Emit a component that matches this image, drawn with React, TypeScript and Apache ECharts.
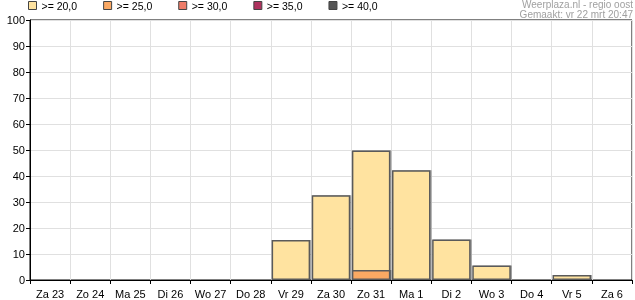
import React, { useEffect, useRef } from "react";
import * as echarts from "echarts";

const categories = ["Za 23", "Zo 24", "Ma 25", "Di 26", "Wo 27", "Do 28", "Vr 29", "Za 30", "Zo 31", "Ma 1", "Di 2", "Wo 3", "Do 4", "Vr 5", "Za 6"];
const ge20 = [0, 0, 0, 0, 0, 0, 15.4, 32.6, 49.8, 42.2, 15.6, 5.6, 0, 1.9, 0];
const ge25 = [0, 0, 0, 0, 0, 0, 0, 0, 3.8, 0, 0, 0, 0, 0, 0];
const ge30: number[] = [];
const ge35: number[] = [];
const ge40: number[] = [];
const seriesNames = [">= 20,0", ">= 25,0", ">= 30,0", ">= 35,0", ">= 40,0"];
const seriesColors = ["#FFE3A0", "#FBA964", "#EE7C68", "#AE325E", "#555555"];
const yTicks = { min: 0, max: 100, interval: 10 };
const titleLines = ["Weerplaza.nl - regio oost", "Gemaakt: vr 22 mrt 20:47"];

const FONT = "'Liberation Sans', Arial, sans-serif";

export default function App() {
  const ref = useRef<HTMLDivElement>(null);
  useEffect(() => {
    if (!ref.current) return;
    const chart = echarts.init(ref.current, null, { renderer: "svg" });
    const datas = [ge20, ge25, ge30, ge35, ge40];
    chart.setOption({
      animation: false,
      textStyle: { fontFamily: FONT },
      grid: {
        left: 30, right: 3, top: 20, bottom: 20,
        show: true, borderColor: "#000", borderWidth: 1,
      },
      legend: {
        left: 28, top: 0, padding: 0,
        itemWidth: 8, itemHeight: 8, itemGap: 26,
        icon: "rect",
        data: seriesNames.map((n, i) => ({
          name: n,
          itemStyle: { color: seriesColors[i], borderColor: "#444", borderWidth: 1 },
        })),
        textStyle: { fontSize: 10.5, color: "#000", fontFamily: FONT },
      },
      graphic: titleLines.map((t, i) => ({
        type: "text",
        right: 2,
        top: -1 + i * 10,
        style: { text: t, fill: "#a0a0a0", fontSize: 10, fontFamily: FONT },
      })),
      xAxis: {
        type: "category",
        data: categories,
        boundaryGap: true,
        axisLine: { lineStyle: { color: "#000", width: 1 } },
        axisTick: { show: true, length: 4, lineStyle: { color: "#000" } },
        axisLabel: { color: "#000", fontSize: 11, margin: 8, interval: 0 },
        splitLine: { show: true, lineStyle: { color: "#e0e0e0", width: 1 } },
      },
      yAxis: {
        type: "value",
        min: yTicks.min, max: yTicks.max, interval: yTicks.interval,
        axisLine: { show: true, lineStyle: { color: "#000", width: 1 } },
        axisTick: { show: true, length: 4, lineStyle: { color: "#000" } },
        axisLabel: { color: "#000", fontSize: 11, margin: 5 },
        splitLine: { show: true, lineStyle: { color: "#e0e0e0", width: 1 } },
      },
      series: seriesNames.map((n, i) => ({
        name: n,
        type: "bar",
        data: datas[i].map((v) => (v === 0 ? "-" : v)),
        barWidth: "96%",
        barGap: "-100%",
        itemStyle: {
          color: seriesColors[i],
          borderColor: "#5a5a5a",
          borderWidth: 1.5,
          shadowColor: "rgba(0,0,0,0.35)",
          shadowOffsetX: 1,
          shadowOffsetY: 0,
          shadowBlur: 0,
        },
      })),
    });
    return () => chart.dispose();
  }, []);
  return <div ref={ref} style={{ position: "fixed", left: 0, top: 0, width: 635, height: 300 }} />;
}
